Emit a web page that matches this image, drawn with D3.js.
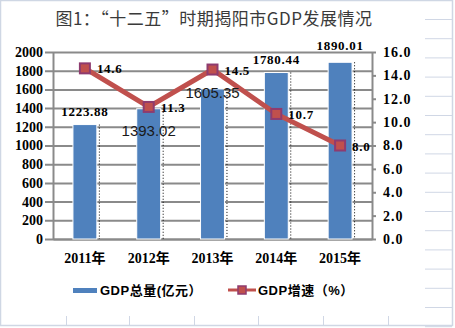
<!DOCTYPE html>
<html>
<head>
<meta charset="utf-8">
<script src="https://cdn.jsdelivr.net/npm/d3@7"></script>
<style>
  body { margin: 0; background: #fff; }
  svg { display: block; }
</style>
</head>
<body>
<div class="chart"></div>
<script>
var years = ['2011年', '2012年', '2013年', '2014年', '2015年'];
var gdpTotal = [1223.88, 1393.02, 1605.35, 1780.44, 1890.01];
var gdpGrowth = [14.6, 11.3, 14.5, 10.7, 8.0];
var leftTicks = [0, 200, 400, 600, 800, 1000, 1200, 1400, 1600, 1800, 2000];
var rightTicks = [0, 2, 4, 6, 8, 10, 12, 14, 16];

var W = 455, H = 328;
var margin = { top: 52, right: 83, bottom: 89, left: 53 };
var width = W - margin.left - margin.right;
var height = H - margin.top - margin.bottom;

var serif = '"Liberation Serif", "Noto Sans CJK SC", serif';
var sans = '"Liberation Sans", Arial, "Noto Sans CJK SC", sans-serif';
var gridColor = '#8a8a8a';
var barColor = '#4f81bd';
var lineColor = '#c0504d';
var markerStroke = '#8e3b6f';

var root = d3.select('.chart')
  .append('svg')
    .attr('width', W)
    .attr('height', H);

// spreadsheet cells peeking out behind the chart
var sheet = root.append('g').attr('stroke', '#d0d7e5').attr('stroke-width', 1);
d3.range(0, 17).forEach(function(i) {
  var y = 19.5 + i * 19.2;
  sheet.append('line').attr('x1', 425).attr('x2', 452).attr('y1', y).attr('y2', y);
});
[66, 129, 194, 258, 323, 388].forEach(function(x) {
  sheet.append('line').attr('x1', x + 0.5).attr('x2', x + 0.5).attr('y1', 316).attr('y2', 325);
});
root.append('rect')
  .attr('x', 0.5).attr('y', 0.5)
  .attr('width', 452).attr('height', 325)
  .attr('fill', 'none')
  .attr('stroke', '#cfd7e4')
  .attr('stroke-width', 1.5);

root.append('text')
  .attr('x', 214)
  .attr('y', 25)
  .attr('text-anchor', 'middle')
  .style('font-family', '"Noto Sans CJK SC", serif')
  .style('font-size', '17px')
  .style('letter-spacing', '0.5px')
  .style('fill', '#3a3a3a')
  .text('图1：“十二五”时期揭阳市GDP发展情况');

var svg = root.append('g')
  .attr('transform', 'translate(' + margin.left + ', ' + margin.top + ')');

var xScale = d3.scaleBand()
  .domain(years)
  .range([0, width])
  .paddingInner(0.625)
  .paddingOuter(0.3125);

var yScale = d3.scaleLinear()
  .domain([0, 2000])
  .range([height, 0]);

var y2Scale = d3.scaleLinear()
  .domain([0, 16])
  .range([height, 0]);

// left axis + grid
var yAxis = d3.axisLeft(yScale)
  .tickValues(leftTicks)
  .tickSize(8)
  .tickSizeOuter(0)
  .tickPadding(2)
  .tickFormat(d3.format('d'));
var gy = svg.append('g').call(yAxis);
gy.selectAll('.tick line')
  .attr('x1', width)
  .attr('stroke', gridColor)
  .attr('stroke-width', 2);
gy.select('.domain').attr('stroke', gridColor).attr('stroke-width', 2);
gy.selectAll('text')
  .style('font-family', serif)
  .style('font-weight', 'bold')
  .style('font-size', '14px')
  .style('fill', '#000');

// right axis
var y2Axis = d3.axisRight(y2Scale)
  .tickValues(rightTicks)
  .tickSize(4)
  .tickSizeOuter(0)
  .tickPadding(7)
  .tickFormat(d3.format('.1f'));
var gy2 = svg.append('g')
  .attr('transform', 'translate(' + width + ', 0)')
  .call(y2Axis);
gy2.selectAll('.tick line').attr('stroke', gridColor).attr('stroke-width', 2);
gy2.select('.domain').attr('stroke', gridColor).attr('stroke-width', 2);
gy2.selectAll('text')
  .style('font-family', serif)
  .style('font-weight', 'bold')
  .style('font-size', '14px')
  .style('letter-spacing', '1px')
  .style('fill', '#000');

// bottom axis
var xAxis = d3.axisBottom(xScale).tickSize(0).tickPadding(14);
var gx = svg.append('g')
  .attr('transform', 'translate(0, ' + height + ')')
  .call(xAxis);
gx.select('.domain').attr('stroke', gridColor).attr('stroke-width', 2);
gx.selectAll('text')
  .style('font-family', serif)
  .style('font-weight', 'bold')
  .style('font-size', '14px')
  .style('fill', '#000');

// bars
svg.selectAll('.bar')
  .data(gdpTotal)
  .enter()
  .append('rect')
    .attr('class', 'bar')
    .attr('x', (d, i) => xScale(years[i]))
    .attr('y', d => yScale(d))
    .attr('width', xScale.bandwidth())
    .attr('height', d => height - yScale(d))
    .attr('fill', barColor)
    .attr('stroke', '#fff')
    .attr('stroke-width', 1);

// dotted shadows right of bars
svg.selectAll('.drop')
  .data(gdpTotal)
  .enter()
  .append('line')
    .attr('class', 'drop')
    .attr('x1', (d, i) => xScale(years[i]) + xScale.bandwidth() + 2.5)
    .attr('x2', (d, i) => xScale(years[i]) + xScale.bandwidth() + 2.5)
    .attr('y1', d => yScale(d))
    .attr('y2', height)
    .attr('stroke', '#000')
    .attr('stroke-width', 1)
    .attr('stroke-dasharray', '1,2');

// growth line
var line = d3.line()
  .x((d, i) => xScale(years[i]) + xScale.bandwidth() / 2)
  .y(d => y2Scale(d));

svg.append('path')
  .datum(gdpGrowth)
  .attr('d', line)
  .attr('fill', 'none')
  .attr('stroke', lineColor)
  .attr('stroke-width', 5);

svg.selectAll('.marker')
  .data(gdpGrowth)
  .enter()
  .append('rect')
    .attr('class', 'marker')
    .attr('x', (d, i) => xScale(years[i]) + xScale.bandwidth() / 2 - 5)
    .attr('y', d => y2Scale(d) - 5)
    .attr('width', 10)
    .attr('height', 10)
    .attr('fill', lineColor)
    .attr('stroke', markerStroke)
    .attr('stroke-width', 2);

// bar value labels (two of them came out in a plain font in the original)
var plainLabel = [false, true, true, false, false];
svg.selectAll('.barlabel')
  .data(gdpTotal)
  .enter()
  .append('text')
    .attr('class', 'barlabel')
    .attr('x', (d, i) => xScale(years[i]) + xScale.bandwidth() / 2)
    .attr('y', (d, i) => {
      if (i === 1) return y2Scale(gdpGrowth[i]) + 29;
      if (i === 2) return yScale(d) + 9;
      if (i === 4) return yScale(d) - 12;
      return yScale(d) - 9;
    })
    .attr('text-anchor', 'middle')
    .style('font-family', (d, i) => plainLabel[i] ? sans : serif)
    .style('font-weight', (d, i) => plainLabel[i] ? 'normal' : 'bold')
    .style('font-size', (d, i) => plainLabel[i] ? '15px' : '13px')
    .style('letter-spacing', (d, i) => plainLabel[i] ? '0px' : '0.7px')
    .style('fill', (d, i) => plainLabel[i] ? '#1a1a1a' : '#000')
    .text(d => d.toFixed(2));

svg.selectAll('.linelabel')
  .data(gdpGrowth)
  .enter()
  .append('text')
    .attr('class', 'linelabel')
    .attr('x', (d, i) => xScale(years[i]) + xScale.bandwidth() / 2 + 12)
    .attr('y', d => y2Scale(d) + 5)
    .style('font-family', serif)
    .style('font-weight', 'bold')
    .style('font-size', '13px')
    .style('letter-spacing', '0.7px')
    .style('fill', '#000')
    .text(d => d.toFixed(1));

// legend
var legend = root.append('g');
legend.append('rect')
  .attr('x', 73).attr('y', 288)
  .attr('width', 24).attr('height', 5)
  .attr('fill', barColor);
legend.append('text')
  .attr('x', 100).attr('y', 295)
  .style('font-family', sans)
  .style('font-weight', 'bold')
  .style('font-size', '13px')
  .style('letter-spacing', '0.5px')
  .text('GDP总量(亿元）');
legend.append('line')
  .attr('x1', 228).attr('x2', 256)
  .attr('y1', 290).attr('y2', 290)
  .attr('stroke', lineColor)
  .attr('stroke-width', 3);
legend.append('rect')
  .attr('x', 238).attr('y', 286)
  .attr('width', 8).attr('height', 8)
  .attr('fill', lineColor)
  .attr('stroke', markerStroke)
  .attr('stroke-width', 1.5);
legend.append('text')
  .attr('x', 258).attr('y', 295)
  .style('font-family', sans)
  .style('font-weight', 'bold')
  .style('font-size', '13px')
  .style('letter-spacing', '0.5px')
  .text('GDP增速（%）');
</script>
</body>
</html>
